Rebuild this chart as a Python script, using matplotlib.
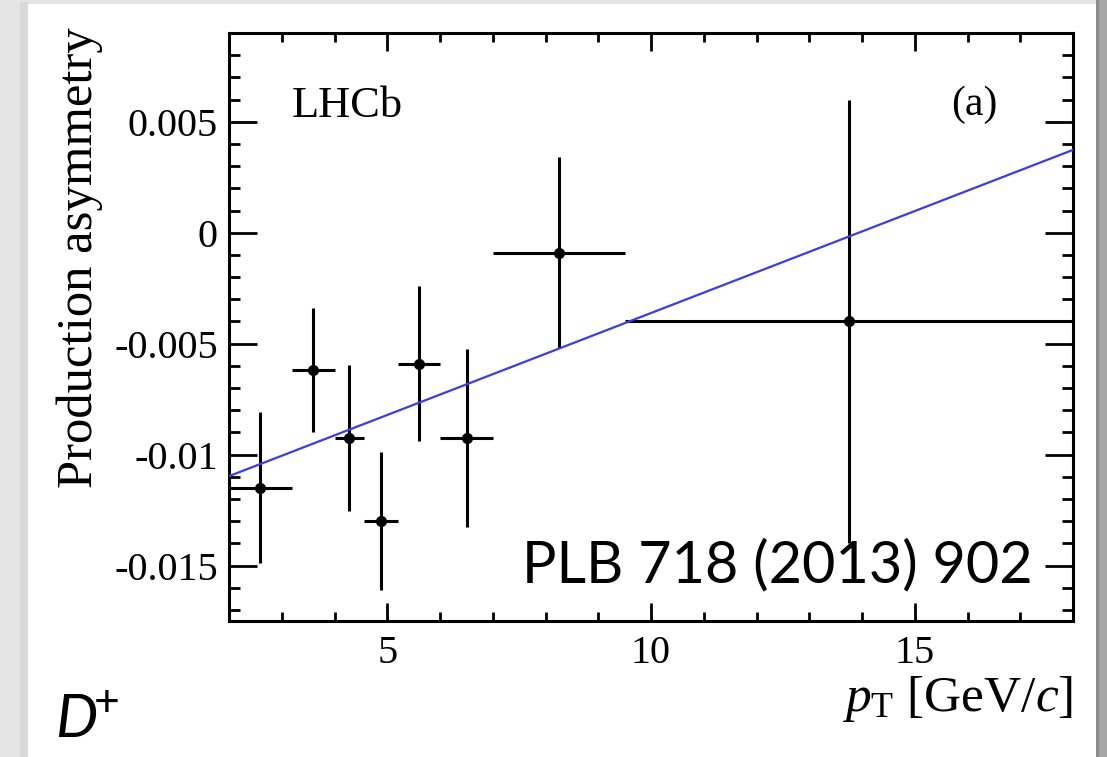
import numpy as np
import matplotlib.pyplot as plt
from matplotlib.patches import Rectangle

# D+ production asymmetry vs pT (LHCb, PLB 718 (2013) 902)
pt = np.array([2.59, 3.60, 4.27, 4.89, 5.61, 6.52, 8.26, 13.75])
bin_lo = np.array([2.0, 3.2, 4.0, 4.55, 5.2, 6.0, 7.0, 9.5])
bin_hi = np.array([3.2, 4.0, 4.55, 5.2, 6.0, 7.0, 9.5, 18.0])
asym = np.array([-0.0115, -0.0062, -0.00925, -0.0130, -0.0059, -0.00925, -0.0009, -0.0040])
asym_err = np.array([0.0034, 0.0028, 0.0033, 0.0031, 0.0035, 0.0040, 0.0043, 0.0100])

# linear fit
fit_slope = 0.000919
fit_offset = -0.01281

plt.rcParams['font.family'] = ['Liberation Serif', 'DejaVu Serif']
plt.rcParams['mathtext.fontset'] = 'custom'
plt.rcParams['mathtext.rm'] = 'Liberation Serif'
plt.rcParams['mathtext.it'] = 'Liberation Serif:italic'

W, H = 1107, 757
fig = plt.figure(figsize=(W / 100, H / 100), dpi=100, facecolor='#e4e4e4')

# white slide panel with a bit of shadow
fig.patches.append(Rectangle((1096 / W, 0), 11 / W, 1, transform=fig.transFigure,
                             facecolor='#8c8c8c', edgecolor='none', zorder=-3))
fig.patches.append(Rectangle((1099 / W, 0), 8 / W, 1, transform=fig.transFigure,
                             facecolor='#a6a6a6', edgecolor='none', zorder=-3))
fig.patches.append(Rectangle((20 / W, 0), 8 / W, 1 - 2 / H, transform=fig.transFigure,
                             facecolor='#d9d9d9', edgecolor='none', zorder=-3))
fig.patches.append(Rectangle((28 / W, 0), 1068 / W, 1 - 4 / H, transform=fig.transFigure,
                             facecolor='white', edgecolor='none', zorder=-2))

ax = fig.add_axes([229 / W, 1 - 621 / H, 844 / W, 588 / H])
ax.set_facecolor('none')

xerr = np.vstack([pt - bin_lo, bin_hi - pt])
ax.errorbar(pt, asym, xerr=xerr, yerr=asym_err, fmt='o', color='black',
            ms=7, elinewidth=2.2, capsize=0, zorder=2, clip_on=True)

xfit = np.array([2.0, 18.0])
ax.plot(xfit, fit_slope * xfit + fit_offset, color='#3c3ce6', lw=1.6, zorder=3)

ax.set_xlim(2, 18)
ax.set_ylim(-0.0175, 0.009)
ax.set_xticks([5, 10, 15])
ax.set_xticks(np.arange(2, 19, 1), minor=True)
ax.set_yticks([-0.015, -0.01, -0.005, 0, 0.005])
ax.set_yticklabels(['-0.015', '-0.01', '-0.005', '0', '0.005'])
ax.set_yticks(np.arange(-0.017, 0.0091, 0.001), minor=True)

for s in ax.spines.values():
    s.set_linewidth(2.2)
ax.tick_params(which='both', direction='in', top=True, right=True, width=2, labelsize=29)
ax.tick_params(axis='y', which='major', length=20, pad=8)
ax.tick_params(axis='y', which='minor', length=8)
ax.tick_params(axis='x', which='major', length=13, pad=10)
ax.tick_params(axis='x', which='minor', length=6.5)

ax.text(-0.1765, 1.01, 'Production asymmetry', transform=ax.transAxes, rotation=90,
        ha='center', va='top', fontsize=36.5)
ax.text(1.0, -0.09, r'$p_{\rm T}$ [GeV/$c$]', transform=ax.transAxes,
        ha='right', va='top', fontsize=37)

ax.text(0.0746, 0.857, 'LHCb', transform=ax.transAxes, ha='left', va='baseline', fontsize=32)
ax.text(0.910, 0.8776, '(a)', transform=ax.transAxes, ha='right', va='center', fontsize=30)

ax.text(0.347, 0.0663, 'PLB 718 (2013) 902', transform=ax.transAxes, ha='left',
        va='baseline', fontsize=41.5, family='Lato', color='black')

fig.text(55 / W, 20 / H, 'D', fontsize=43, family='Lato', style='italic',
         ha='left', va='baseline')
fig.text(94 / W, 1 - 703 / H, '+', fontsize=32, family='Lato', ha='left', va='center')

fig.savefig('out.png', dpi=100, facecolor=fig.get_facecolor())
